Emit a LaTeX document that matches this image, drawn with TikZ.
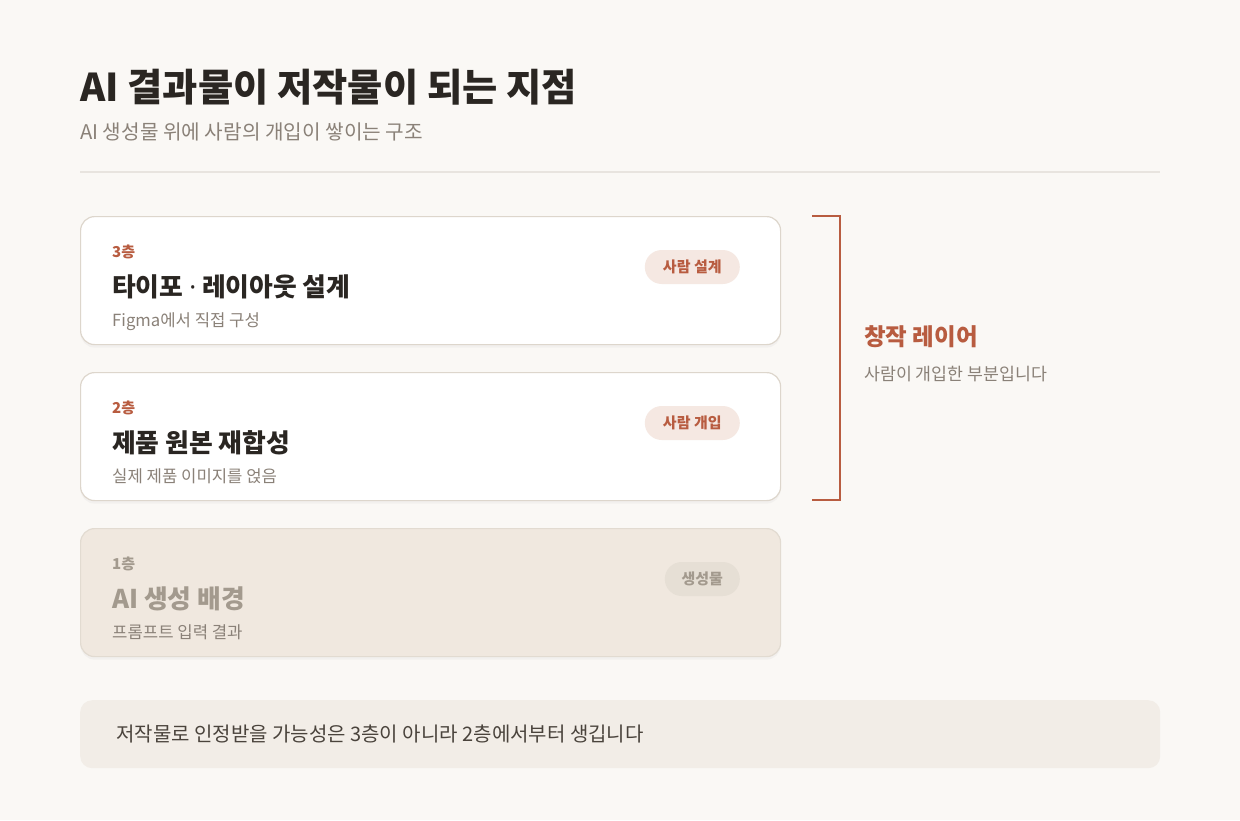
\documentclass[tikz,border=0pt]{standalone}
\usepackage{fontspec}
\setmainfont{Noto Sans CJK KR}
\newfontfamily\latinsans{Noto Sans}
\usetikzlibrary{shadows}
\definecolor{bg}{HTML}{FAF8F5}
\definecolor{ink}{HTML}{2A2622}
\definecolor{muted}{HTML}{8A8178}
\definecolor{accent}{HTML}{B85C40}
\definecolor{rulec}{HTML}{E8E4DF}
\definecolor{cardline}{HTML}{DDD6CC}
\definecolor{basefill}{HTML}{F0E8DF}
\definecolor{baseline}{HTML}{E2DBD1}
\definecolor{fadeink}{HTML}{A39A8E}
\definecolor{pillA}{HTML}{F5E8E2}
\definecolor{pillB}{HTML}{E6DFD5}
\definecolor{notefill}{HTML}{F2EDE7}
\definecolor{noteink}{HTML}{4A433C}
\tikzset{
  txt/.style={anchor=base west, inner sep=0pt},
  card/.style={draw=cardline, line width=1.2pt, fill=white, rounded corners=14pt,
    minimum width=700pt, minimum height=128pt, anchor=north west, inner sep=0pt,
    drop shadow={opacity=0.06, shadow xshift=0pt, shadow yshift=-3pt}},
  basecard/.style={card, fill=basefill, draw=baseline},
  pill/.style={rounded corners=17pt, minimum height=34pt, inner sep=0pt, anchor=east,
    font=\fontsize{15}{17}\selectfont\bfseries},
  layer/.style={txt, font=\fontsize{15}{17}\selectfont\bfseries},
  ctitle/.style={txt, font=\fontsize{25.8}{30}\selectfont\bfseries},
  cdesc/.style={txt, font=\fontsize{16.7}{19}\selectfont, text=muted},
}
\begin{document}
\begin{tikzpicture}[x=1pt,y=-1pt]
\useasboundingbox[fill=bg] (0,0) rectangle (1240,820);
% header
\node[txt, font=\fontsize{38.3}{44}\selectfont\bfseries, text=ink] (title) at (80,101) {AI 결과물이 저작물이 되는 지점};
\node[txt, font=\fontsize{20.2}{24}\selectfont, text=muted] (sub) at (80,139) {AI 생성물 위에 사람의 개입이 쌓이는 구조};
\coordinate (r1) at (80,172);
\coordinate (r2) at (1160,172);
\draw[rulec, line width=1.2pt] (r1) -- (r2);
% cards
\node[card] (c3) at (80,216) {};
\node[card] (c2) at (80,372) {};
\node[basecard] (c1) at (80,528) {};
% card 3
\node[layer, text=accent] (l3) at (112,257) {3층};
\node[ctitle, text=ink] (t3) at (112,296) {타이포 {\latinsans\bfseries ·} 레이아웃 설계};
\node[cdesc] (d3) at (112,326) {Figma에서 직접 구성};
\node[pill, fill=pillA, text=accent, minimum width=95pt] (p3) at (740,267) {사람 설계};
% card 2
\node[layer, text=accent] (l2) at (112,413) {2층};
\node[ctitle, text=ink] (t2) at (112,452) {제품 원본 재합성};
\node[cdesc] (d2) at (112,482) {실제 제품 이미지를 얹음};
\node[pill, fill=pillA, text=accent, minimum width=95pt] (p2) at (740,423) {사람 개입};
% card 1
\node[layer, text=fadeink] (l1) at (112,569) {1층};
\node[ctitle, text=fadeink] (t1) at (112,608) {AI 생성 배경};
\node[cdesc] (d1) at (112,638) {프롬프트 입력 결과};
\node[pill, fill=pillB, text=fadeink, minimum width=75pt] (p1) at (740,579) {생성물};
% bracket
\coordinate (b1) at (812,216);
\coordinate (b2) at (840,216);
\coordinate (b3) at (840,500);
\coordinate (b4) at (812,500);
\draw[accent, line width=2pt] (b1) -- (b2) -- (b3) -- (b4);
\node[txt, font=\fontsize{23.5}{28}\selectfont\bfseries, text=accent] (cl) at (864,345) {창작 레이어};
\node[txt, font=\fontsize{17.3}{21}\selectfont, text=muted] (cs) at (864,380) {사람이 개입한 부분입니다};
% note
\node[fill=notefill, rounded corners=12pt, minimum width=1080pt, minimum height=68pt, anchor=north west, inner sep=0pt] (note) at (80,700) {};
\node[txt, font=\fontsize{20}{24}\selectfont, text=noteink] (nt) at (116,741) {저작물로 인정받을 가능성은 3층이 아니라 2층에서부터 생깁니다};
\end{tikzpicture}
\end{document}
